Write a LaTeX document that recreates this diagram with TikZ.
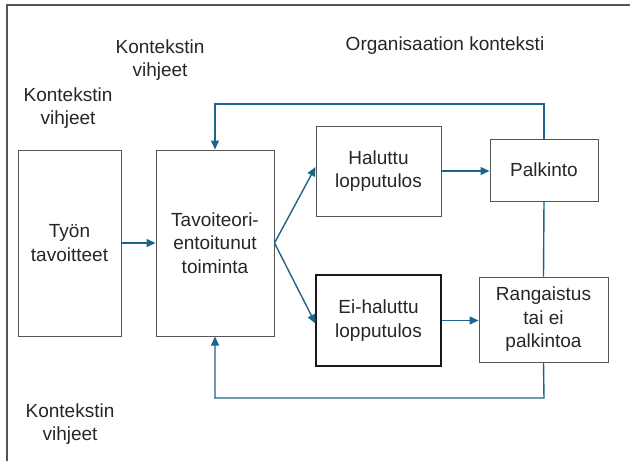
\documentclass[tikz,border=0pt]{standalone}
\usepackage{fontspec}
\setmainfont{Liberation Sans}
\usetikzlibrary{arrows.meta}
\definecolor{flow}{RGB}{30,100,138}
\definecolor{frame}{RGB}{85,85,85}
\begin{document}
\begin{tikzpicture}[x=1pt,y=-1pt,
  every node/.style={font=\fontsize{19}{23.5}\selectfont, align=center, text=black!85},
  box/.style={draw=frame, line width=1pt, inner sep=2pt},
  boxdark/.style={draw=black!90, line width=1.15pt, inner sep=2pt},
  conn/.style={draw=flow, line width=1.4pt},
  arr/.style={conn, -{Triangle[length=9pt,width=8pt]}}]
\useasboundingbox (0,0) rectangle (630,461);
\draw[line width=2.5pt, frame] (7,461) -- (7,5) -- (631,5);
% labels
\node (k1) at (160,60) {Kontekstin\\vihjeet};
\node (org) at (445,46) {Organisaation konteksti};
\node (k2) at (68,108) {Kontekstin\\vihjeet};
\node (k3) at (70,424) {Kontekstin\\vihjeet};
% boxes
\node[box, minimum width=103, minimum height=186] (tyon) at (69.5,243) {Työn\\tavoitteet};
\node[box, minimum width=118, minimum height=186] (tav) at (215,243) {Tavoiteori-\\entoitunut\\toiminta};
\node[box, minimum width=125, minimum height=90] (hal) at (378.5,171) {Haluttu\\lopputulos};
\node[box, minimum width=108, minimum height=62] (palk) at (544,170) {Palkinto};
\node[boxdark, minimum width=125, minimum height=91] (ei) at (378.5,320.5) {Ei-haluttu\\lopputulos};
\node[box, minimum width=129, minimum height=85] (rang) at (543.5,319.5) {Rangaistus\\tai ei\\palkintoa};
% coordinates
\coordinate (tr) at (544,104);
\coordinate (tl) at (215,104);
\coordinate (br) at (544,398);
\coordinate (bl) at (215,398);
% connectors
\draw[arr] (tyon.east) -- (tav.west);
\draw[arr] (tav.east) -- ([yshift=4pt]hal.west);
\draw[arr] (tav.east) -- ([yshift=-3pt]ei.west);
\draw[arr] (hal.east) -- (palk.west |- hal.east);
\draw[arr] (ei.east) -- (rang.west |- ei.east);
\draw[conn] (palk.south) -- (rang.north);
\draw[arr] (palk.north) -- (tr) -- (tl) -- (tav.north);
\draw[arr] (rang.south) -- (br) -- (bl) -- (tav.south);
\end{tikzpicture}
\end{document}
